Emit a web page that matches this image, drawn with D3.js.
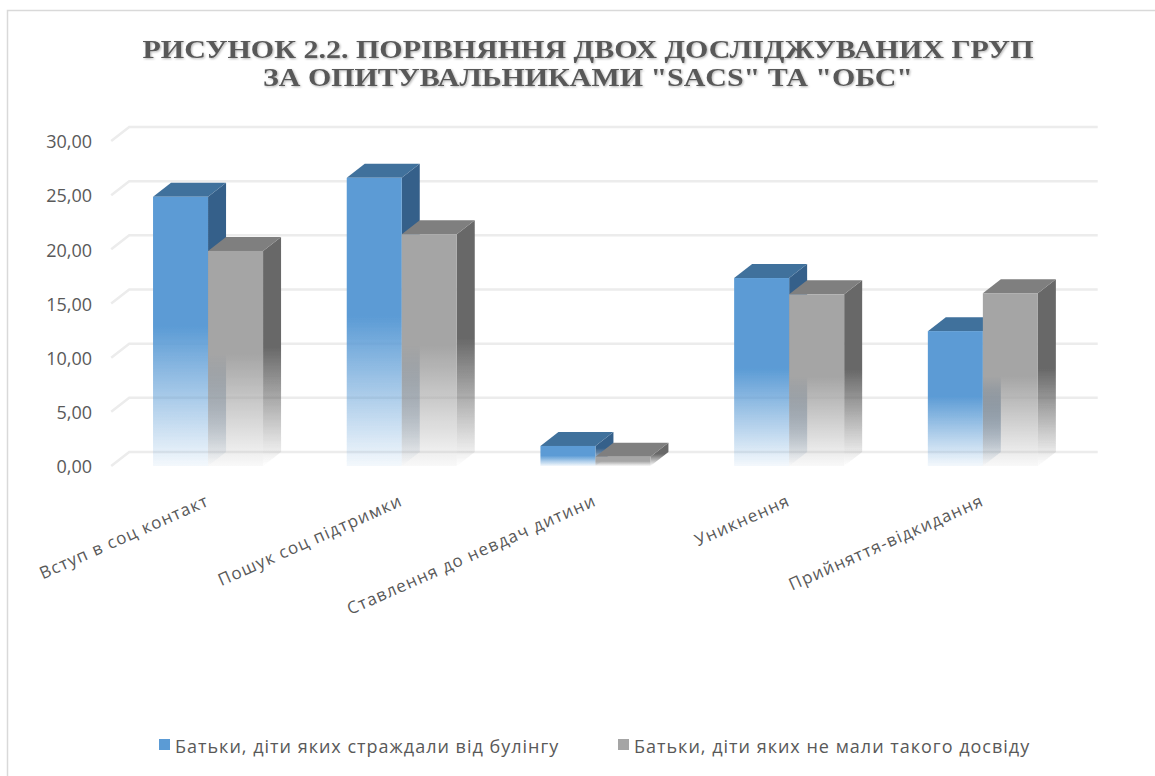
<!DOCTYPE html>
<html>
<head>
<meta charset="utf-8">
<script src="https://cdn.jsdelivr.net/npm/d3@7"></script>
<style>
  html, body { margin: 0; padding: 0; background: #ffffff; }
  svg { display: block; }
  .tick-label { font-family: "Open Sans", "Noto Sans", sans-serif; fill: #595959; }
</style>
</head>
<body>
<svg id="chart" width="1155" height="776"></svg>
<script>
// ---- data ----
const categories = [
  "Вступ в соц контакт",
  "Пошук соц підтримки",
  "Ставлення до невдач дитини",
  "Уникнення",
  "Прийняття-відкидання"
];
const seriesNames = [
  "Батьки, діти яких страждали від булінгу",
  "Батьки, діти яких не мали такого досвіду"
];
const bullyingValues = [24.85, 26.6, 1.85, 17.35, 12.45];
const noExperienceValues = [19.85, 21.4, 0.85, 15.85, 15.95];
const yTicks = [0, 5, 10, 15, 20, 25, 30];
const titleLines = [
  "РИСУНОК 2.2. ПОРІВНЯННЯ ДВОХ ДОСЛІДЖУВАНИХ ГРУП",
  "ЗА ОПИТУВАЛЬНИКАМИ \"SACS\" ТА \"ОБС\""
];

// ---- layout ----
const W = 1155, H = 776;
const front = { left: 111.2, right: 1079.7, bottom: 466, top: 141 };
const depth = { dx: 18, dy: -14 };

const svg = d3.select("#chart");

const palette = [
  { front: "#5b9bd5", top: "#41719c", side: "#36608a" },
  { front: "#a5a5a5", top: "#7f7f7f", side: "#686868" }
];

const seriesKeys = ["s0", "s1"];
const rows = categories.map((c, i) => ({
  category: c,
  values: [bullyingValues[i], noExperienceValues[i]]
}));

const x0 = d3.scaleBand()
  .domain(categories)
  .range([front.left, front.right])
  .paddingInner(0.432)
  .paddingOuter(0.216);

const x1 = d3.scaleBand()
  .domain(seriesKeys)
  .range([0, x0.bandwidth()]);

const y = d3.scaleLinear()
  .domain([0, 30])
  .range([front.bottom, front.top]);

// ---- defs: gradients & filters ----
const defs = svg.append("defs");
function fadeGradient(id, color, endOpacity) {
  const g = defs.append("linearGradient")
    .attr("id", id)
    .attr("x1", 0).attr("y1", 0).attr("x2", 0).attr("y2", 1);
  g.append("stop").attr("offset", "0%").attr("stop-color", color).attr("stop-opacity", 1);
  g.append("stop").attr("offset", "48%").attr("stop-color", color).attr("stop-opacity", 1);
  g.append("stop").attr("offset", "100%").attr("stop-color", color).attr("stop-opacity", endOpacity);
}
palette.forEach((p, i) => {
  fadeGradient("front" + i, p.front, 0.07);
  fadeGradient("side" + i, p.side, 0.0);
});

const shadow = defs.append("filter").attr("id", "titleShadow")
  .attr("x", "-5%").attr("y", "-30%").attr("width", "110%").attr("height", "160%");
shadow.append("feDropShadow")
  .attr("dx", 1).attr("dy", 1).attr("stdDeviation", 0.8)
  .attr("flood-color", "#000000").attr("flood-opacity", 0.3);

const soft = defs.append("filter").attr("id", "soft");
soft.append("feGaussianBlur").attr("stdDeviation", 0.45);

// ---- outer border ----
svg.append("rect")
  .attr("x", 7.5).attr("y", 10.5)
  .attr("width", W + 20).attr("height", H + 20)
  .attr("fill", "none")
  .attr("stroke", "#d9d9d9")
  .attr("stroke-width", 1.5);

// ---- title ----
const title = svg.append("g").attr("filter", "url(#titleShadow)");
title.selectAll("text")
  .data(titleLines)
  .join("text")
  .attr("x", 588)
  .attr("y", (d, i) => 57.5 + i * 28)
  .attr("text-anchor", "middle")
  .attr("font-family", "'Liberation Serif', 'DejaVu Serif', serif")
  .attr("font-weight", "bold")
  .attr("font-size", 26)
  .attr("fill", "#595959")
  .attr("textLength", (d, i) => i === 0 ? 891 : 650)
  .attr("lengthAdjust", "spacingAndGlyphs")
  .text(d => d);

// ---- gridlines (back wall + left wall diagonal) ----
const grid = svg.append("g").attr("filter", "url(#soft)");
grid.selectAll("path")
  .data(yTicks)
  .join("path")
  .attr("d", v => {
    const yf = y(v), yb = y(v) + depth.dy;
    return `M${front.left},${yf}L${front.left + depth.dx},${yb}L${front.right + depth.dx},${yb}`;
  })
  .attr("fill", "none")
  .attr("stroke", "#ececec")
  .attr("stroke-width", 2.5);

// ---- y axis labels ----
svg.append("g")
  .selectAll("text")
  .data(yTicks)
  .join("text")
  .attr("class", "tick-label")
  .attr("x", 92)
  .attr("y", v => y(v) + 1)
  .attr("dy", "0.35em")
  .attr("text-anchor", "end")
  .attr("font-size", 18)
  .text(v => d3.format(".2f")(v).replace(".", ","));

// ---- 3D bars ----
const barsLayer = svg.append("g").attr("filter", "url(#soft)");
rows.forEach(row => {
  const g = barsLayer.append("g");
  row.values.forEach((v, si) => {
    const p = palette[si];
    const xl = x0(row.category) + x1(seriesKeys[si]);
    const w = x1.bandwidth();
    const yt = y(v), yb = y(0);
    const dx = depth.dx, dy = depth.dy;
    // side face
    g.append("path")
      .attr("d", `M${xl + w},${yt}L${xl + w + dx},${yt + dy}L${xl + w + dx},${yb + dy}L${xl + w},${yb}Z`)
      .attr("fill", `url(#side${si})`);
    // top face
    g.append("path")
      .attr("d", `M${xl},${yt}L${xl + dx},${yt + dy}L${xl + w + dx},${yt + dy}L${xl + w},${yt}Z`)
      .attr("fill", p.top);
    // front face
    g.append("rect")
      .attr("x", xl).attr("y", yt)
      .attr("width", w).attr("height", yb - yt)
      .attr("fill", `url(#front${si})`);
  });
});

// ---- category labels (rotated) ----
svg.append("g")
  .selectAll("text")
  .data(categories)
  .join("text")
  .attr("class", "tick-label")
  .attr("font-size", 17)
  .attr("letter-spacing", 1.1)
  .attr("text-anchor", "end")
  .attr("transform", c => `translate(${x0(c) + x0.bandwidth() / 2 + 2},505) rotate(-24)`)
  .text(c => c);

// ---- legend ----
const legendX = [159, 618];
const legend = svg.append("g");
seriesNames.forEach((name, i) => {
  legend.append("rect")
    .attr("x", legendX[i]).attr("y", 739)
    .attr("width", 11).attr("height", 11)
    .attr("fill", palette[i].front);
  legend.append("text")
    .attr("class", "tick-label")
    .attr("x", legendX[i] + 16)
    .attr("y", 753)
    .attr("font-size", 18)
    .attr("letter-spacing", 1)
    .text(name);
});
</script>
</body>
</html>
